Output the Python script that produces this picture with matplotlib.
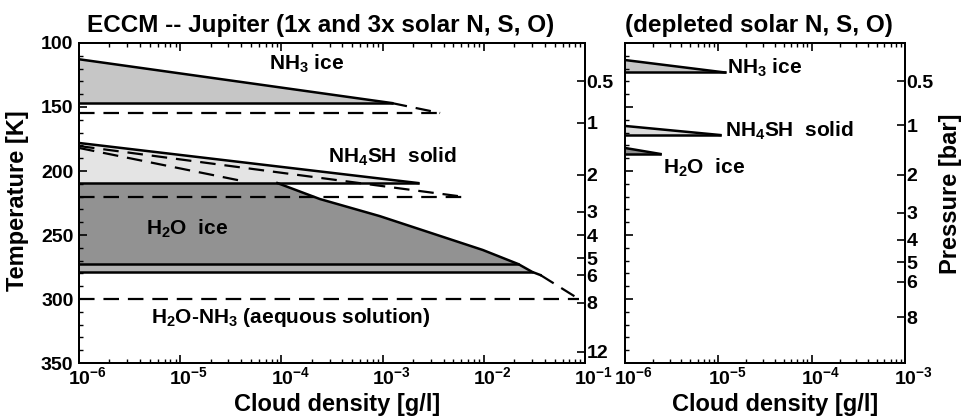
import numpy as np
import matplotlib
matplotlib.use("Agg")
import matplotlib.pyplot as plt
from matplotlib.ticker import MultipleLocator, LogLocator, NullLocator
from matplotlib.transforms import ScaledTranslation

plt.rcParams['font.family'] = 'Liberation Sans'
plt.rcParams['font.weight'] = 'bold'
plt.rcParams['mathtext.fontset'] = 'custom'
for k in ('rm', 'it', 'bf', 'sf'):
    plt.rcParams['mathtext.' + k] = 'Liberation Sans:bold'

# axis ticks
left_xticks = [1e-6, 1e-5, 1e-4, 1e-3, 1e-2, 1e-1]
left_xlabels = ['$10^{-6}$', '$10^{-5}$', '$10^{-4}$', '$10^{-3}$', '$10^{-2}$', '$10^{-1}$']
right_xticks = [1e-6, 1e-5, 1e-4, 1e-3]
right_xlabels = ['$10^{-6}$', '$10^{-5}$', '$10^{-4}$', '$10^{-3}$']
temp_ticks = [100, 150, 200, 250, 300, 350]
temp_labels = ['100', '150', '200', '250', '300', '350']

# pressure levels (bar) placed at temperature [K]
p_left_T = [129.7, 162.5, 203.1, 232.0, 250.0, 268.0, 281.3, 303.1, 341.4]
p_left_labels = ['0.5', '1', '2', '3', '4', '5', '6', '8', '12']
p_right_T = [129.7, 164.1, 203.1, 232.8, 253.9, 271.1, 286.7, 314.1]
p_right_labels = ['0.5', '1', '2', '3', '4', '5', '6', '8']

# left panel: 1x and 3x solar
nh3_top_x = [1e-6, 1.23e-3]
nh3_top_T = [112.7, 146.9]
nh3_base_T = 146.9
nh3_dash_x = [1.23e-3, 3.7e-3]
nh3_dash_T = [146.9, 154.7]
nh3_level_T = 154.7

nh4sh_top_x = [1e-6, 2.24e-3]
nh4sh_top_T = [178.1, 209.4]
nh4sh_base_T = 209.4
nh4sh_dash_a_x = [1e-6, 6.5e-3]
nh4sh_dash_a_T = [180.5, 220.3]
nh4sh_dash_b_x = [1e-6, 4.1e-5]
nh4sh_dash_b_T = [182.0, 207.8]
nh4sh_level_T = 220.3

h2o_edge_x = [9.12e-5, 2.40e-4, 9.33e-4, 9.77e-3, 0.0219, 0.0302, 0.0363]
h2o_edge_T = [209.4, 221.9, 235.2, 261.7, 272.7, 278.9, 281.3]
h2o_base_T = 272.7
h2o_band_T = 278.9
h2o_dash_x = [0.0363, 0.087]
h2o_dash_T = [281.3, 300.0]
h2o_level_T = 300.0

# right panel: depleted solar
r_nh3_x = [1e-6, 1.17e-5]
r_nh3_T = [113.3, 123.0]
r_nh4sh_x = [1e-6, 1.05e-5]
r_nh4sh_T = [164.8, 171.9]
r_h2o_x = [1e-6, 2.4e-6]
r_h2o_T = [182.0, 186.7]

fig = plt.figure(figsize=(9.68, 4.19), dpi=100)
W, H = 968.0, 419.0
ax1 = fig.add_axes([79 / W, 1 - 363 / H, 506 / W, 320 / H])
ax2 = fig.add_axes([625 / W, 1 - 363 / H, 280 / W, 320 / H])

lw = 1.8
dash = dict(color='k', lw=1.6, dashes=(7, 4))

# NH3 ice
ax1.fill(nh3_top_x + [1e-6], nh3_top_T + [nh3_base_T], color='#c6c6c6', lw=0)
ax1.plot(nh3_top_x, nh3_top_T, 'k', lw=lw)
ax1.plot([1e-6, nh3_top_x[-1]], [nh3_base_T, nh3_base_T], 'k', lw=lw)
ax1.plot(nh3_dash_x, nh3_dash_T, **dash)
ax1.plot([1e-6, nh3_dash_x[-1]], [nh3_level_T, nh3_level_T], **dash)

# NH4SH solid
ax1.fill(nh4sh_top_x + [1e-6], nh4sh_top_T + [nh4sh_base_T], color='#e4e4e4', lw=0)

# H2O ice
ax1.fill([1e-6] + h2o_edge_x[:5] + [1e-6],
         [h2o_edge_T[0]] + h2o_edge_T[:5] + [h2o_base_T], color='#929292', lw=0)
ax1.fill([1e-6] + h2o_edge_x[4:6] + [1e-6],
         [h2o_base_T] + h2o_edge_T[4:6] + [h2o_band_T], color='#b2b2b2', lw=0)

ax1.plot(nh4sh_top_x, nh4sh_top_T, 'k', lw=lw)
ax1.plot([1e-6, nh4sh_top_x[-1]], [nh4sh_base_T, nh4sh_base_T], 'k', lw=lw)
ax1.plot(nh4sh_dash_a_x, nh4sh_dash_a_T, **dash)
ax1.plot(nh4sh_dash_b_x, nh4sh_dash_b_T, **dash)
ax1.plot([1e-6, nh4sh_dash_a_x[-1]], [nh4sh_level_T, nh4sh_level_T], **dash)

ax1.plot(h2o_edge_x, h2o_edge_T, 'k', lw=lw)
ax1.plot([1e-6, h2o_edge_x[4]], [h2o_base_T, h2o_base_T], 'k', lw=lw)
ax1.plot([1e-6, h2o_edge_x[5]], [h2o_band_T, h2o_band_T], 'k', lw=lw)
ax1.plot(h2o_dash_x, h2o_dash_T, **dash)
ax1.plot([1e-6, h2o_dash_x[-1]], [h2o_level_T, h2o_level_T], **dash)

ax1.text(10**-3.75, 121.1, 'NH$_3$ ice', fontsize=15, ha='center', va='baseline')
ax1.text(10**-2.90, 193.8, 'NH$_4$SH  solid', fontsize=15, ha='center', va='baseline')
ax1.text(10**-4.93, 250.0, 'H$_2$O  ice', fontsize=15, ha='center', va='baseline')
ax1.text(10**-3.905, 318.8, 'H$_2$O-NH$_3$ (aequous solution)', fontsize=15,
         ha='center', va='baseline')

# right panel
for xs, ts, c in [(r_nh3_x, r_nh3_T, '#c6c6c6'), (r_nh4sh_x, r_nh4sh_T, '#dcdcdc'),
                  (r_h2o_x, r_h2o_T, '#8e8e8e')]:
    ax2.fill(xs + [1e-6], ts + [ts[-1]], color=c, lw=0)
    ax2.plot(xs, ts, 'k', lw=lw)
    ax2.plot([1e-6, xs[-1]], [ts[-1], ts[-1]], 'k', lw=lw)

ax2.text(10**-4.907, 124.2, 'NH$_3$ ice', fontsize=15, ha='left', va='baseline')
ax2.text(10**-4.93, 173.4, 'NH$_4$SH  solid', fontsize=15, ha='left', va='baseline')
ax2.text(10**-5.59, 202.3, 'H$_2$O  ice', fontsize=15, ha='left', va='baseline')

# shift so the "10" of each x label sits on its tick
shift = ScaledTranslation(-7.8 / 72, 0, fig.dpi_scale_trans)

for ax, xt, xl, xmax, pt, pl in [(ax1, left_xticks, left_xlabels, 1e-1, p_left_T, p_left_labels),
                                 (ax2, right_xticks, right_xlabels, 1e-3, p_right_T, p_right_labels)]:
    ax.set_xscale('log')
    ax.set_xlim(1e-6, xmax)
    ax.set_ylim(350, 100)
    ax.set_xticks(xt)
    ax.set_xticklabels(xl)
    ax.xaxis.set_minor_locator(LogLocator(base=10, subs=np.arange(2, 10), numticks=20))
    ax.set_yticks(temp_ticks)
    ax.yaxis.set_minor_locator(MultipleLocator(10))
    ax.tick_params(which='both', direction='in', top=True, right=False)
    ax.tick_params(which='major', length=6, width=1.2, labelsize=14)
    ax.tick_params(which='minor', length=3, width=1)
    ax.tick_params(axis='x', pad=2)
    ax.tick_params(axis='y', pad=4)
    for lab in ax.get_xticklabels():
        lab.set_ha('left')
        lab.set_transform(lab.get_transform() + shift)
    for s in ax.spines.values():
        s.set_linewidth(1.4)
    tw = ax.twinx()
    tw.set_ylim(350, 100)
    tw.set_yticks(pt)
    tw.set_yticklabels(pl)
    tw.yaxis.set_minor_locator(NullLocator())
    tw.tick_params(direction='in', length=6, width=1.2, labelsize=14, pad=1)
    for s in tw.spines.values():
        s.set_linewidth(1.4)

ax1.set_yticklabels(temp_labels)
ax2.set_yticklabels([])

fig.text(87 / W, 1 - 32 / H, 'ECCM -- Jupiter (1x and 3x solar N, S, O)', fontsize=17.5,
         ha='left', va='baseline')
fig.text(625 / W, 1 - 32 / H, '(depleted solar N, S, O)', fontsize=17.5, ha='left', va='baseline')
fig.text(337 / W, 1 - 411 / H, 'Cloud density [g/l]', fontsize=17, ha='center', va='baseline')
fig.text(775 / W, 1 - 411 / H, 'Cloud density [g/l]', fontsize=17, ha='center', va='baseline')
fig.text(18 / W, 1 - 201 / H, 'Temperature [K]', fontsize=17, rotation=90,
         ha='center', va='center')
fig.text(950 / W, 1 - 194 / H, 'Pressure [bar]', fontsize=17, rotation=90,
         ha='center', va='center')

fig.savefig('out.png', dpi=100)
